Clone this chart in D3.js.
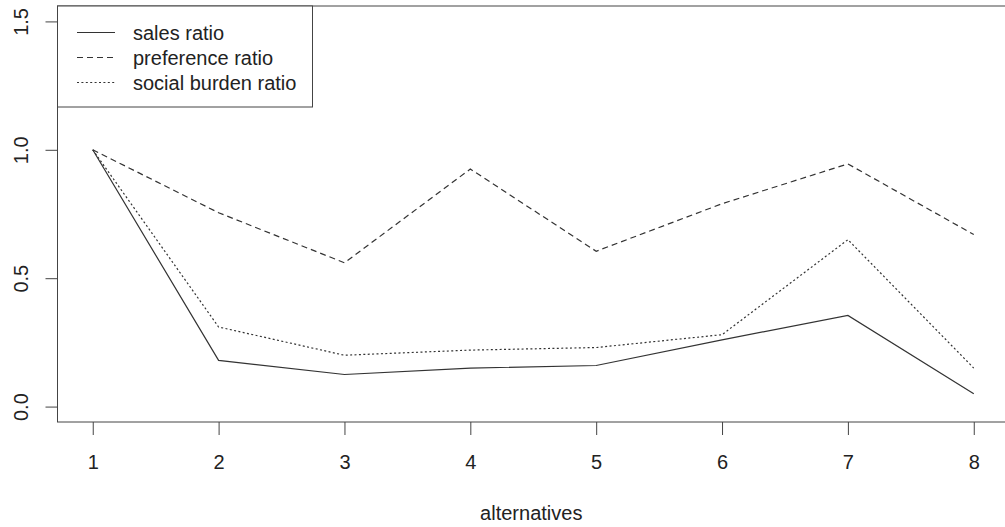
<!DOCTYPE html>
<html>
<head>
<meta charset="utf-8">
<script src="https://cdn.jsdelivr.net/npm/d3@7"></script>
<style>
  body { margin: 0; background: #fff; }
  text { font-family: "Liberation Sans", Arial, sans-serif; fill: #222; }
</style>
</head>
<body>
<svg id="chart" width="1005" height="527"></svg>
<script>
// data
var alternatives = [1, 2, 3, 4, 5, 6, 7, 8];
var salesRatio = [1.0, 0.18, 0.125, 0.15, 0.16, 0.26, 0.355, 0.05];
var preferenceRatio = [1.0, 0.755, 0.56, 0.925, 0.605, 0.79, 0.945, 0.67];
var socialBurdenRatio = [1.0, 0.31, 0.2, 0.22, 0.23, 0.28, 0.65, 0.15];
var yTicks = [0, 0.5, 1.0, 1.5];
var seriesNames = ["sales ratio", "preference ratio", "social burden ratio"];
var dashes = [null, "6,4", "2,2.4"];

var svg = d3.select("#chart");
var plotL = 57.5, plotR = 1009, plotT = 6, plotB = 422;
var ink = "#444";
var fs = "20px";

// R style: 4% padding on both axes
var x = d3.scaleLinear().domain([1 - 0.28, 8 + 0.28]).range([plotL, plotR]);
var y = d3.scaleLinear().domain([-0.06, 1.56]).range([plotB, plotT]);

// plot box
svg.append("rect")
    .attr("x", plotL).attr("y", plotT)
    .attr("width", plotR - plotL).attr("height", plotB - plotT)
    .attr("fill", "none").attr("stroke", ink).attr("stroke-width", 1);

// x axis
var xAxis = svg.append("g")
    .attr("transform", "translate(0," + plotB + ")")
    .call(d3.axisBottom(x).tickValues(alternatives).tickFormat(d3.format("d")).tickSize(13).tickPadding(20));
xAxis.select(".domain").remove();
xAxis.selectAll("line").attr("stroke", ink);
xAxis.selectAll("text").style("font-size", fs).attr("fill", "#222");

// y axis, labels rotated like R's las=0
var yAxis = svg.append("g")
    .attr("transform", "translate(" + plotL + ",0)")
    .call(d3.axisLeft(y).tickValues(yTicks).tickFormat(d3.format(".1f")).tickSize(12));
yAxis.select(".domain").remove();
yAxis.selectAll("line").attr("stroke", ink);
yAxis.selectAll("text")
    .style("font-size", fs).attr("fill", "#222")
    .attr("x", null)
    .attr("text-anchor", "middle")
    .attr("transform", "translate(-30,0) rotate(-90)")
    .attr("dy", "0em");

svg.append("text")
    .attr("x", (plotL + plotR) / 2 - 2).attr("y", 520)
    .attr("text-anchor", "middle")
    .style("font-size", fs)
    .text("alternatives");

var line = d3.line().x(function(d, i) { return x(alternatives[i]); }).y(function(d) { return y(d); });
[salesRatio, preferenceRatio, socialBurdenRatio].forEach(function(s, i) {
    svg.append("path")
        .attr("d", line(s))
        .attr("fill", "none")
        .attr("stroke", "#333")
        .attr("stroke-width", 1.2)
        .attr("stroke-dasharray", dashes[i]);
});

// legend
var legend = svg.append("g");
legend.append("rect")
    .attr("x", plotL).attr("y", plotT)
    .attr("width", 312.5 - plotL).attr("height", 107 - plotT)
    .attr("fill", "#fff").attr("stroke", ink);
seriesNames.forEach(function(name, i) {
    var ly = 32.5 + i * 25;
    legend.append("line")
        .attr("x1", 77).attr("x2", 115).attr("y1", ly).attr("y2", ly)
        .attr("stroke", "#333").attr("stroke-width", 1.2)
        .attr("stroke-dasharray", dashes[i]);
    legend.append("text")
        .attr("x", 133).attr("y", ly).attr("dy", "0.35em")
        .style("font-size", fs)
        .text(name);
});
</script>
</body>
</html>
